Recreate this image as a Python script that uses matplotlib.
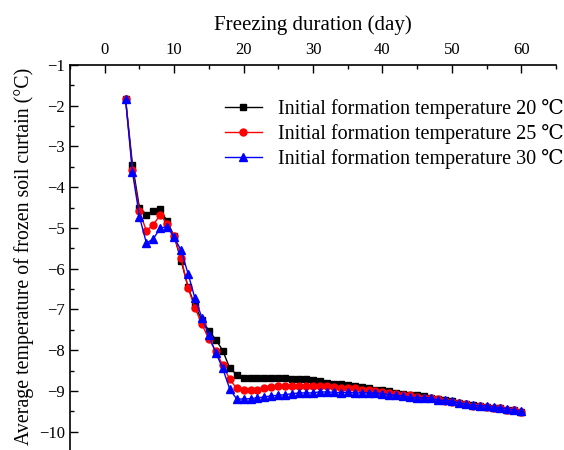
import numpy as np
import matplotlib
matplotlib.use("Agg")
import matplotlib.pyplot as plt
from matplotlib.ticker import MultipleLocator

plt.rcParams['font.family'] = ['Liberation Serif', 'DejaVu Serif']
plt.rcParams['mathtext.fontset'] = 'stix'

# data
days = np.arange(3, 61)
t20 = [-1.83, -3.45, -4.50, -4.67, -4.59, -4.54, -4.84, -5.20, -5.80, -6.45,
       -6.91, -7.26, -7.52, -7.74, -8.01, -8.44, -8.60, -8.68, -8.68, -8.68,
       -8.68, -8.68, -8.68, -8.68, -8.70, -8.72, -8.72, -8.74, -8.76, -8.80,
       -8.82, -8.82, -8.85, -8.89, -8.90, -8.94, -8.97, -8.99, -9.01, -9.05,
       -9.07, -9.09, -9.11, -9.13, -9.17, -9.20, -9.23, -9.26, -9.29, -9.32,
       -9.35, -9.37, -9.39, -9.41, -9.43, -9.46, -9.48, -9.51]
t25 = [-1.83, -3.58, -4.59, -5.07, -4.92, -4.68, -4.90, -5.20, -5.74, -6.47,
       -6.96, -7.37, -7.72, -8.03, -8.37, -8.71, -8.94, -8.99, -8.99, -8.97,
       -8.93, -8.91, -8.89, -8.89, -8.89, -8.89, -8.89, -8.87, -8.87, -8.89,
       -8.91, -8.93, -8.93, -8.94, -8.97, -8.98, -9.01, -9.02, -9.05, -9.07,
       -9.09, -9.11, -9.15, -9.17, -9.17, -9.21, -9.24, -9.27, -9.29, -9.33,
       -9.36, -9.37, -9.40, -9.42, -9.43, -9.48, -9.48, -9.51]
t30 = [-1.83, -3.63, -4.72, -5.37, -5.27, -5.00, -4.97, -5.23, -5.55, -6.12,
       -6.73, -7.20, -7.64, -8.06, -8.45, -8.95, -9.20, -9.20, -9.19, -9.17,
       -9.15, -9.12, -9.11, -9.09, -9.07, -9.05, -9.05, -9.05, -9.02, -9.03,
       -9.03, -9.05, -9.03, -9.05, -9.05, -9.05, -9.05, -9.07, -9.09, -9.11,
       -9.13, -9.15, -9.17, -9.17, -9.17, -9.23, -9.23, -9.25, -9.29, -9.32,
       -9.35, -9.36, -9.37, -9.40, -9.41, -9.44, -9.47, -9.50]

labels = ["Initial formation temperature 20 \u2103",
          "Initial formation temperature 25 \u2103",
          "Initial formation temperature 30 \u2103"]

fig = plt.figure(figsize=(5.64, 4.5), dpi=100)
# axes extends past the bottom edge like the cropped original
ax = fig.add_axes([70/564, 1 - 452/450, (556 - 70)/564, (452 - 65)/450])

ax.plot(days, t20, '-s', color='black', lw=1, ms=4.5, label=labels[0])
ax.plot(days, t25, '-o', color='red', lw=1, ms=5, label=labels[1])
ax.plot(days, t30, '-^', color='blue', lw=1, ms=5.5, label=labels[2])

ax.set_xlim(-5, 65)
ax.set_ylim(-10.5, -1)
ax.xaxis.set_major_locator(MultipleLocator(10))
ax.xaxis.set_minor_locator(MultipleLocator(5))
ax.yaxis.set_major_locator(MultipleLocator(1))
ax.yaxis.set_minor_locator(MultipleLocator(0.5))
ax.xaxis.tick_top()
ax.xaxis.set_label_position('top')
ax.tick_params(which='both', direction='in', labelsize=12, width=1)
ax.tick_params(which='major', length=6)
ax.tick_params(which='minor', length=3)
ax.tick_params(axis='x', pad=5)
ax.spines['right'].set_visible(False)
ax.spines['bottom'].set_visible(False)
ax.spines['top'].set_linewidth(1.2)
ax.spines['left'].set_linewidth(1.2)

ax.set_xlabel("Freezing duration (day)", fontsize=15, labelpad=9)
ax.set_ylabel("Average temperature of frozen soil curtain (\u00b0C)", fontsize=14.3)
ax.yaxis.set_label_coords(-0.074, 0.505)

ax.legend(loc='upper left', bbox_to_anchor=(0.302, 0.932), borderaxespad=0,
          frameon=False, fontsize=14.5, handlelength=1.85, handletextpad=0.8,
          labelspacing=0.25)

fig.savefig("out.png", dpi=100)
